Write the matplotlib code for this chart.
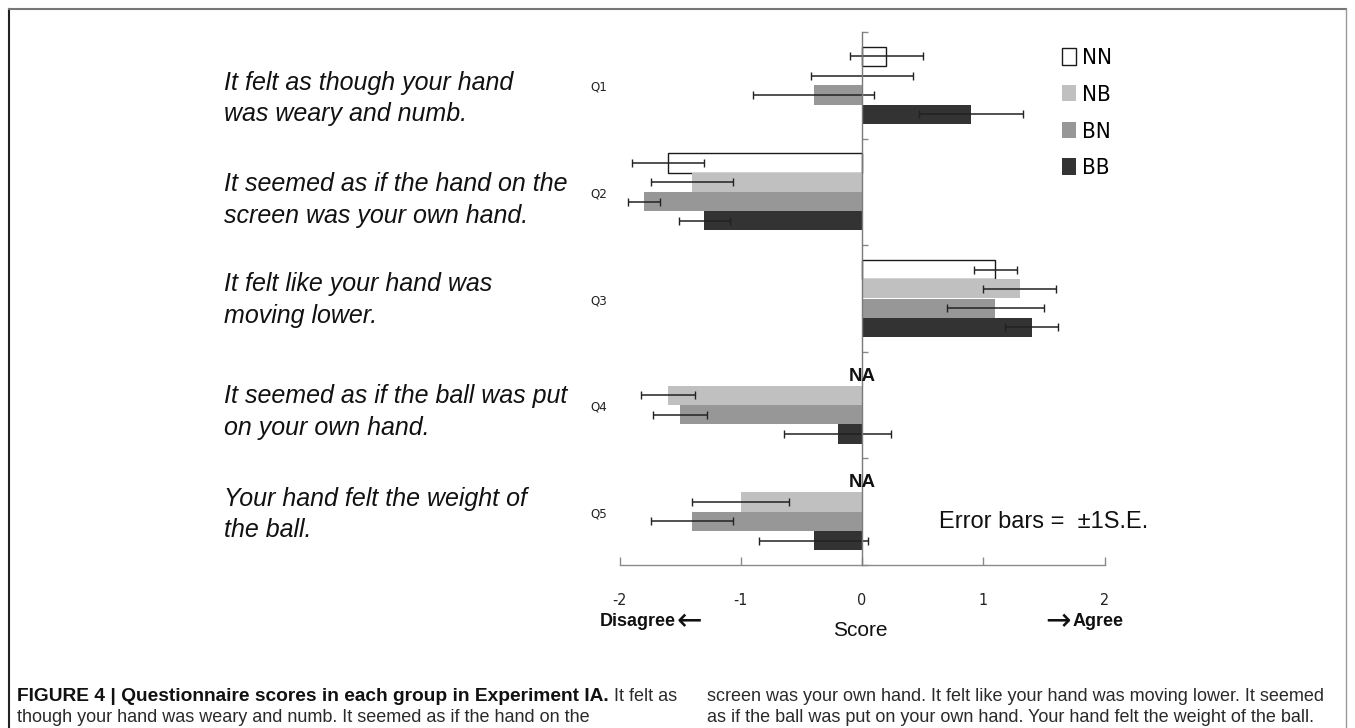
import numpy as np
import matplotlib
matplotlib.use("Agg")
import matplotlib.pyplot as plt
from matplotlib.transforms import blended_transform_factory
from matplotlib.lines import Line2D

# ---------------- data ----------------
questions = [
    "It felt as though your hand\nwas weary and numb.",
    "It seemed as if the hand on the\nscreen was your own hand.",
    "It felt like your hand was\nmoving lower.",
    "It seemed as if the ball was put\non your own hand.",
    "Your hand felt the weight of\nthe ball.",
]
q_labels = ["Q1", "Q2", "Q3", "Q4", "Q5"]
groups = ["NN", "NB", "BN", "BB"]

nn_mean = [0.2, -1.6, 1.1, np.nan, np.nan]
nn_se = [0.30, 0.30, 0.18, np.nan, np.nan]
nb_mean = [0.0, -1.4, 1.3, -1.6, -1.0]
nb_se = [0.42, 0.34, 0.30, 0.22, 0.40]
bn_mean = [-0.4, -1.8, 1.1, -1.5, -1.4]
bn_se = [0.50, 0.13, 0.40, 0.22, 0.34]
bb_mean = [0.9, -1.3, 1.4, -0.2, -0.4]
bb_se = [0.43, 0.21, 0.22, 0.44, 0.45]

x_ticks = [-2, -1, 0, 1, 2]
na_questions = [3, 4]  # indices where NN is not available

means = [nn_mean, nb_mean, bn_mean, bb_mean]
ses = [nn_se, nb_se, bn_se, bb_se]

# ---------------- style ----------------
face_colors = ["white", "#c0c0c0", "#979797", "#333333"]
edge_colors = ["#1a1a1a", "none", "none", "none"]
NARROW = ["Liberation Sans Narrow", "DejaVu Sans"]
SANS = ["Liberation Sans", "DejaVu Sans"]

W, H = 1355, 728
fig = plt.figure(figsize=(W / 100, H / 100), dpi=100)
fig.patch.set_facecolor("white")

ax_left, ax_right, ax_top, ax_bot = 619.5, 1104.5, 32, 565
ax = fig.add_axes([ax_left / W, 1 - ax_bot / H, (ax_right - ax_left) / W, (ax_bot - ax_top) / H])

n_q = len(questions)
y = np.arange(n_q)
bar_h = 0.181
offsets = (np.arange(len(groups)) - 1.5) * bar_h

handles = []
for g, (m, s) in enumerate(zip(means, ses)):
    yy = y + offsets[g]
    m = np.array(m, dtype=float)
    bars = ax.barh(yy, m, height=bar_h, color=face_colors[g], edgecolor=edge_colors[g],
                   linewidth=1.0, label=groups[g], zorder=2)
    handles.append(bars)
    ax.errorbar(m, yy, xerr=np.array(s, dtype=float), fmt="none", ecolor="#222222",
                elinewidth=1.1, capsize=3, capthick=1.0, zorder=3)

ax.set_xlim(-2, 2)
ax.set_ylim(n_q - 0.5, -0.5)

for sp in ["top", "right"]:
    ax.spines[sp].set_visible(False)
ax.spines["left"].set_position(("data", 0))
ax.spines["left"].set_color("#7a7a7a")
ax.spines["left"].set_linewidth(1.0)
ax.spines["left"].set_zorder(4)
ax.spines["bottom"].set_color("#8a8a8a")
ax.spines["bottom"].set_linewidth(1.0)

ax.set_yticks([])
ax.set_yticks(np.arange(n_q + 1) - 0.5, minor=True)
ax.tick_params(axis="y", which="minor", direction="in", length=4, width=1, color="#8a8a8a", labelleft=False)
ax.tick_params(axis="y", which="major", length=0, labelleft=False)

ax.set_xticks(x_ticks)
ax.set_xticklabels([str(t) for t in x_ticks], family=NARROW, fontstretch="condensed",
                   fontsize=11.5, color="#222222")
ax.tick_params(axis="x", direction="in", length=6, width=1, color="#8a8a8a", pad=20)

# Q labels
tr_q = blended_transform_factory(ax.transAxes, ax.transData)
for i, ql in enumerate(q_labels):
    ax.text(-0.025, i + 0.02, ql, transform=tr_q, ha="right", va="center",
            family=NARROW, fontstretch="condensed", fontsize=9.5, color="#222222")

# Question texts
text_dy = [0.11, 0.06, 0.0, 0.05, 0.01]
tr_t = blended_transform_factory(fig.transFigure, ax.transData)
for i, qt in enumerate(questions):
    ax.text(224 / W, i + text_dy[i] + 0.015, qt, transform=tr_t, ha="left", va="center",
            family=SANS, style="italic", fontsize=18, color="#111111",
            linespacing=1.38, clip_on=False)

# NA labels
for i in na_questions:
    ax.text(0, i + offsets[0], "NA", ha="center", va="center", fontsize=13.5,
            fontweight="bold", family=SANS, color="#111111", zorder=5)

# Error bar note
fig.text(939 / W, 1 - 522 / H, "Error bars =  \u00b11S.E.", ha="left", va="center",
         family=SANS, fontsize=17, color="#111111")

# axis annotations
fig.text(600 / W, 1 - 621 / H, "Disagree", ha="left", va="center",
         family=SANS, fontsize=13, fontweight="bold", color="#111111")
fig.text(702 / W, 1 - 622 / H, "\u2190", ha="right", va="center",
         family=["DejaVu Sans"], fontsize=22, color="#111111")
fig.text(1045 / W, 1 - 622 / H, "\u2192", ha="left", va="center",
         family=["DejaVu Sans"], fontsize=22, color="#111111")
fig.text(1124 / W, 1 - 621 / H, "Agree", ha="right", va="center",
         family=SANS, fontsize=13, fontweight="bold", color="#111111")
fig.text(860 / W, 1 - 631 / H, "Score", ha="center", va="center",
         family=SANS, fontsize=15, color="#111111")

# Legend
fig.legend(handles=handles, labels=groups, loc="upper left",
           bbox_to_anchor=(1062 / W, 1 - 48 / H), frameon=False,
           prop={"family": NARROW, "stretch": "condensed", "size": 16}, handlelength=0.62,
           handleheight=0.78, handletextpad=0.3, labelspacing=0.75, borderaxespad=0, borderpad=0)

# outer frame
fig.add_artist(Line2D([9 / W, 9 / W], [0, 1 - 8.5 / H], transform=fig.transFigure, color="#222222", lw=1.5))
fig.add_artist(Line2D([9 / W, 1346 / W], [1 - 8.5 / H, 1 - 8.5 / H], transform=fig.transFigure, color="#777777", lw=1.5))
fig.add_artist(Line2D([1346 / W, 1346 / W], [0, 1 - 8.5 / H], transform=fig.transFigure, color="#999999", lw=1.0))

# caption
cap_fs = 13.0
cap_col = "#2a2a2a"
y1, y2 = 1 - 696.5 / H, 1 - 717 / H
renderer = fig.canvas.get_renderer()
t_bold = fig.text(17 / W, y1, "FIGURE 4 | Questionnaire scores in each group in Experiment IA.",
                  ha="left", va="center", family=SANS, fontsize=13.8, fontweight="bold", color="#111111")
bb = t_bold.get_window_extent(renderer=renderer)
fig.text(bb.x1 / W, y1, " It felt as", ha="left", va="center",
         family=SANS, fontsize=cap_fs, color=cap_col)
fig.text(17 / W, y2, "though your hand was weary and numb. It seemed as if the hand on the",
         ha="left", va="center", family=SANS, fontsize=cap_fs, color=cap_col)
fig.text(707 / W, y1, "screen was your own hand. It felt like your hand was moving lower. It seemed",
         ha="left", va="center", family=SANS, fontsize=cap_fs, color=cap_col)
fig.text(707 / W, y2, "as if the ball was put on your own hand. Your hand felt the weight of the ball.",
         ha="left", va="center", family=SANS, fontsize=cap_fs, color=cap_col)

fig.savefig("out.png", dpi=100, facecolor="white")
